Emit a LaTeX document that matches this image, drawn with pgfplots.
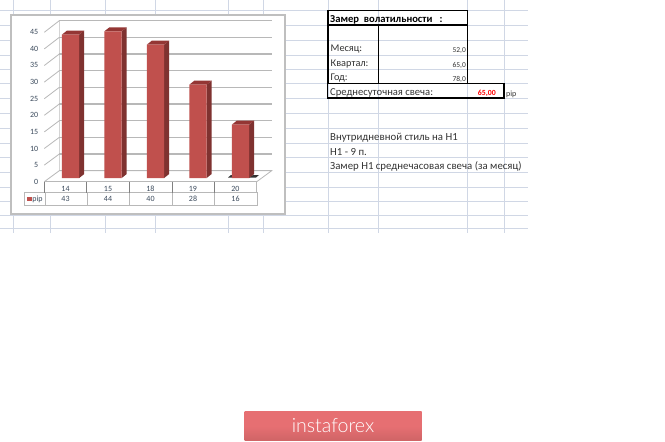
\documentclass[border=0pt]{standalone}
\usepackage{fontspec}
\setmainfont{Carlito}
\newfontfamily\bannerfont{Lato Light}
\usepackage{pgfplots}
\usepackage{pgfplotstable}
\pgfplotsset{compat=1.18}
\definecolor{sheet}{HTML}{D0D7E5}
\definecolor{barfront}{HTML}{C0504D}
\definecolor{barside}{HTML}{7F3230}
\definecolor{bartop}{HTML}{943634}
\definecolor{chartline}{HTML}{B8B8B8}
\definecolor{chartframe}{HTML}{BFBFBF}
\definecolor{labeltext}{HTML}{3B4A5C}
\definecolor{banner}{HTML}{E66F72}
\definecolor{bannerlow}{HTML}{CF6466}

\pgfplotstableread{
x day pip
0 14 43
1 15 44
2 18 40
3 19 28
4 20 16
}\pipdata

\begin{document}
\begin{tikzpicture}[x=1pt,y=-1pt]
\path[use as bounding box] (0,0) rectangle (665,442);

% sheet grid
\foreach \yy in {10,25,40,55,69.5,83.5,98.5,113.5,128.5,143,157.5,172,187,201,215.5,228}
  \draw[sheet,line width=0.9pt] (0,\yy) -- (528,\yy);
\foreach \xx in {13,50,105.5,155.5,228,263.5,328,378.5,467.5,504.5}
  \draw[sheet,line width=0.9pt] (\xx,0) -- (\xx,233);

% chart frame
\draw[chartframe,line width=1.4pt,fill=white] (11,15) rectangle (285,214);

% side wall and floor
\draw[chartline!60,line width=0.7pt] (59.3,20.7) -- (59.3,170.7);
\foreach \k in {0,...,9}
  \draw[chartline,line width=0.8pt] (44.3,181.7-16.6*\k) -- (59.3,170.7-16.67*\k);
\draw[chartline,line width=0.8pt] (59.3,170.7) -- (271.7,170.7) -- (256.7,181.7);

% shadow under the last bar
\fill[black!80] (228,177.5) -- (231,175) -- (236,175) -- (236,177.5) -- cycle;
\fill[black!80] (249,177.5) -- (253,175) -- (259,175) -- (256,177.5) -- cycle;

\begin{axis}[
    at={(49.3pt,-178pt)}, anchor=south west,
    scale only axis,
    width=212.4pt, height=150pt,
    xmin=-0.5, xmax=4.5,
    ymin=0, ymax=45,
    ytick={0,5,...,45},
    xtick={0,1,2,3,4},
    xticklabels from table={\pipdata}{day},
    axis line style={draw=none},
    tick style={draw=none},
    ymajorgrids=true,
    grid style={color=chartline,line width=1.1pt},
    major grid style={xshift=10pt,yshift=7.3pt},
    clip=false,
    /pgf/number format/assume math mode=true,
    tick label style={font=\fontsize{8}{8}\selectfont,text=labeltext},
    yticklabel style={xshift=-7.5pt,yshift=-4pt},
    xticklabel style={xshift=-5pt,yshift=-4.5pt,text height=5pt,text depth=0pt},
]
% side and top faces of the bars
\addplot[fill=barside,draw=none] coordinates {(0.204,0) (0.322,1.2) (0.322,44.2) (0.204,43)} -- cycle;
\addplot[fill=bartop,draw=none] coordinates {(-0.204,43) (-0.086,44.2) (0.322,44.2) (0.204,43)} -- cycle;
\addplot[fill=barside,draw=none] coordinates {(1.204,0) (1.322,1.2) (1.322,45.2) (1.204,44)} -- cycle;
\addplot[fill=bartop,draw=none] coordinates {(0.796,44) (0.914,45.2) (1.322,45.2) (1.204,44)} -- cycle;
\addplot[fill=barside,draw=none] coordinates {(2.204,0) (2.322,1.2) (2.322,41.2) (2.204,40)} -- cycle;
\addplot[fill=bartop,draw=none] coordinates {(1.796,40) (1.914,41.2) (2.322,41.2) (2.204,40)} -- cycle;
\addplot[fill=barside,draw=none] coordinates {(3.204,0) (3.322,1.2) (3.322,29.2) (3.204,28)} -- cycle;
\addplot[fill=bartop,draw=none] coordinates {(2.796,28) (2.914,29.2) (3.322,29.2) (3.204,28)} -- cycle;
\addplot[fill=barside,draw=none] coordinates {(4.204,0) (4.322,1.2) (4.322,17.2) (4.204,16)} -- cycle;
\addplot[fill=bartop,draw=none] coordinates {(3.796,16) (3.914,17.2) (4.322,17.2) (4.204,16)} -- cycle;
% front faces
\addplot[ybar,bar width=17.3pt,fill=barfront,draw=none] table[x=x,y=pip] {\pipdata};
\end{axis}

% data table under the chart
\draw[chartline,line width=0.9pt] (44.5,181.7) -- (256.7,181.7) -- (256.7,192.7);
\draw[chartline,line width=0.9pt] (24,192.7) rectangle (257.5,205.3);
\foreach \xx in {44.5,86.5,129.5,172,214}
  \draw[gray,line width=0.8pt] (\xx,181.7) -- (\xx,192.7);
\foreach \xx in {45,87.5,129.5,172,214}
  \draw[chartline,line width=0.8pt] (\xx,192.7) -- (\xx,205.3);
\fill[barfront] (26.7,196.5) rectangle (31.7,201);
\node[text=labeltext,font=\fontsize{8}{8}\selectfont] at (37.5,199) {pip};
\foreach \xx/\vv in {65.5/43,108/44,150.5/40,193/28,235.5/16}
  \node[text=labeltext,font=\fontsize{8}{8}\selectfont] at (\xx,199) {\vv};

% right hand block
\draw[black,line width=1.2pt] (328,10.3) rectangle (467.3,25);
\draw[black,line width=1.2pt] (328,25) rectangle (467.3,83.3);
\draw[black,line width=1.2pt] (378.7,25) -- (378.7,83.3);
\draw[black,line width=1.4pt] (327.5,83.3) rectangle (504,98);
\tikzset{cell/.style={anchor=base west,inner sep=0pt,font=\fontsize{10.3}{11}\selectfont,text=black!80}}
\node[cell,font=\fontsize{10.6}{11}\selectfont\bfseries,text=black] at (330,22) {Замер\ \ волатильности\ \ \ :};
\node[cell] at (330.5,51.5) {Месяц:};
\node[cell] at (330.5,66.5) {Квартал:};
\node[cell] at (330.5,80.5) {Год:};
\node[cell,font=\fontsize{10.6}{11}\selectfont] at (330,95) {Среднесуточная свеча:};
\tikzset{num/.style={anchor=base east,inner sep=0pt,font=\fontsize{7.5}{8}\selectfont,text=black!80}}
\node[num] at (466,52) {52,0};
\node[num] at (466,67) {65,0};
\node[num] at (466,81) {78,0};
\node[num,text=red,font=\fontsize{7.8}{8}\selectfont\bfseries] at (496,95) {65,00};
\node[cell,font=\fontsize{8}{9}\selectfont] at (506,96) {pip};
\node[cell,font=\fontsize{10.8}{11}\selectfont] at (330,140) {Внутридневной стиль на H1};
\node[cell,font=\fontsize{10.8}{11}\selectfont] at (330,155) {H1 - 9 п.};
\node[cell,font=\fontsize{10.8}{11}\selectfont] at (330,169.5) {Замер H1 среднечасовая свеча (за месяц)};

% banner
\shade[top color=banner,bottom color=bannerlow,middle color=banner] (244.7,411.7) rectangle (421.7,440.7);
\node[text=white,font=\bannerfont\fontsize{19.6}{20}\selectfont] at (333,425.5) {instaforex};
\end{tikzpicture}
\end{document}
